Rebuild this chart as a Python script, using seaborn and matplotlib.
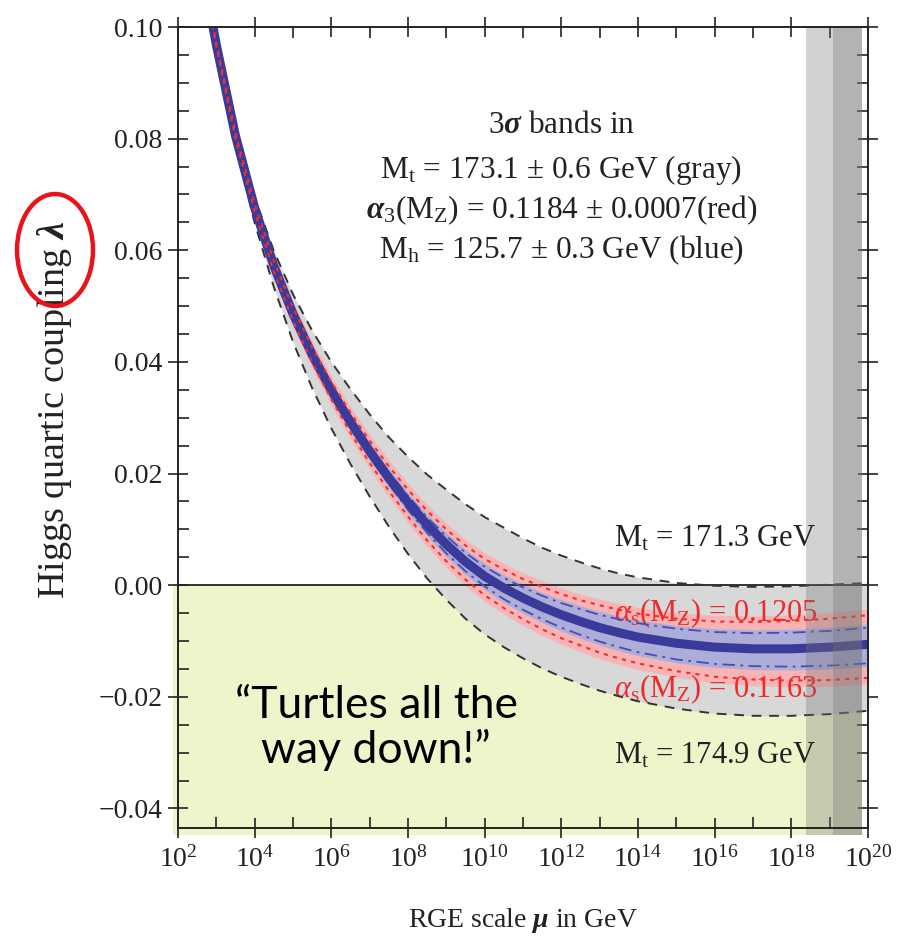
import numpy as np
import pandas as pd
import seaborn as sns
import matplotlib
matplotlib.use("Agg")
import matplotlib.pyplot as plt
from matplotlib.patches import Ellipse, Rectangle
from matplotlib.ticker import FixedLocator, FixedFormatter, NullFormatter

# ---------------- data ----------------
log_mu = [2.9, 3.0, 3.5, 4.0, 4.5, 5.0, 5.5, 6.0, 6.5, 7.0, 7.5, 8.0, 8.5, 9.0, 9.5,
          10.0, 10.5, 11.0, 11.5, 12.0, 12.5, 13.0, 13.5, 14.0, 15.0, 16.0, 17.0,
          18.0, 19.0, 20.0]

lam_central = [0.1005, 0.0968, 0.0805, 0.0676, 0.0572, 0.0486, 0.0413, 0.0349, 0.0292,
               0.0240, 0.0192, 0.0148, 0.0108, 0.0073, 0.0042, 0.0016, -0.0005, -0.0023,
               -0.0039, -0.0053, -0.0065, -0.0076, -0.0085, -0.0093, -0.0104, -0.0111,
               -0.0114, -0.0114, -0.0111, -0.0106]

# top-mass band (gray): Mt = 171.3 GeV (upper edge), 174.9 GeV (lower edge)
lam_mt_171 = [0.1009, 0.0974, 0.0817, 0.0695, 0.0599, 0.0521, 0.0456, 0.0400, 0.0351,
              0.0306, 0.0265, 0.0230, 0.0198, 0.0171, 0.0145, 0.0122, 0.0103, 0.0084,
              0.0067, 0.0053, 0.0041, 0.0030, 0.0021, 0.0014, 0.0004, -0.0001, -0.0003,
              -0.0002, 0.0001, 0.0004]
lam_mt_175 = [0.1001, 0.0961, 0.0789, 0.0649, 0.0534, 0.0436, 0.0353, 0.0281, 0.0217,
              0.0159, 0.0105, 0.0056, 0.0012, -0.0026, -0.0060, -0.0088, -0.0111, -0.0131,
              -0.0149, -0.0164, -0.0177, -0.0189, -0.0199, -0.0208, -0.0221, -0.0230,
              -0.0234, -0.0234, -0.0231, -0.0225]

# alpha_s band (red): 0.1205 (upper), 0.1163 (lower)
lam_as_1205 = [0.1007, 0.0971, 0.0810, 0.0683, 0.0581, 0.0497, 0.0426, 0.0364, 0.0309,
               0.0259, 0.0213, 0.0171, 0.0133, 0.0100, 0.0071, 0.0047, 0.0028, 0.0011,
               -0.0003, -0.0016, -0.0027, -0.0036, -0.0044, -0.0051, -0.0060, -0.0065,
               -0.0066, -0.0064, -0.0060, -0.0054]
lam_as_1163 = [0.1003, 0.0965, 0.0800, 0.0669, 0.0562, 0.0474, 0.0399, 0.0333, 0.0273,
               0.0219, 0.0169, 0.0123, 0.0080, 0.0043, 0.0010, -0.0018, -0.0041, -0.0061,
               -0.0079, -0.0095, -0.0108, -0.0121, -0.0131, -0.0140, -0.0154, -0.0164,
               -0.0169, -0.0171, -0.0170, -0.0166]

# Higgs-mass band (blue), dash-dotted edges
lam_mh_hi = [0.1007, 0.0970, 0.0808, 0.0680, 0.0577, 0.0492, 0.0420, 0.0357, 0.0301,
             0.0250, 0.0203, 0.0160, 0.0121, 0.0088, 0.0058, 0.0033, 0.0013, -0.0004,
             -0.0019, -0.0032, -0.0043, -0.0053, -0.0061, -0.0068, -0.0078, -0.0084,
             -0.0086, -0.0085, -0.0082, -0.0076]
lam_mh_lo = [0.1003, 0.0966, 0.0802, 0.0672, 0.0567, 0.0480, 0.0406, 0.0341, 0.0283,
             0.0230, 0.0181, 0.0135, 0.0094, 0.0057, 0.0025, -0.0002, -0.0025, -0.0044,
             -0.0061, -0.0076, -0.0089, -0.0101, -0.0111, -0.0120, -0.0133, -0.0141,
             -0.0145, -0.0146, -0.0144, -0.0140]

# shaded scales (log10 GeV)
reduced_planck_log = 18.38
planck_log = 19.09
shade_end_log = 19.85

x_tick_powers = [2, 4, 6, 8, 10, 12, 14, 16, 18, 20]
y_ticks = [-0.04, -0.02, 0.00, 0.02, 0.04, 0.06, 0.08, 0.10]
y_tick_labels = ["\u22120.04", "\u22120.02", "0.00", "0.02", "0.04", "0.06", "0.08", "0.10"]

# ---------------- style ----------------
sns.set_theme(style="ticks")
plt.rcParams.update({
    "font.family": ["Liberation Serif", "DejaVu Serif"],
    "mathtext.fontset": "custom",
    "mathtext.rm": "Liberation Serif",
    "mathtext.it": "Liberation Serif:italic",
    "mathtext.bf": "Liberation Serif:bold",
    "mathtext.bfit": "Liberation Serif:bold:italic",
    "axes.edgecolor": "#222222",
    "axes.linewidth": 1.4,
})

mu = 10.0 ** np.array(log_mu)
df = pd.DataFrame({"mu": mu, "central": lam_central,
                   "mt171": lam_mt_171, "mt175": lam_mt_175,
                   "as1205": lam_as_1205, "as1163": lam_as_1163,
                   "mh_hi": lam_mh_hi, "mh_lo": lam_mh_lo})

fig = plt.figure(figsize=(9.06, 9.39), dpi=100)
ax = fig.add_axes([178 / 906, 1 - 828 / 939, 690 / 906, 801 / 939])
ax.set_xscale("log")
ax.set_xlim(1e2, 1e20)
ax.set_ylim(-0.0435, 0.10)

# yellow "unstable" region
ax.add_patch(Rectangle((10 ** 1.86, -0.0447), 10 ** shade_end_log - 10 ** 1.86, 0.0447,
                       facecolor="#eff4cb", edgecolor="none", zorder=0, clip_on=False))

# bands
ax.fill_between(df["mu"], df["mt175"], df["mt171"], color="#d8d8d8", lw=0, zorder=1)
ax.fill_between(df["mu"], df["as1163"] - 0.0011, df["as1205"] + 0.0011,
                color="#f8b4b4", lw=0, zorder=1.1)
ax.fill_between(df["mu"], df["mh_lo"] - 0.0006, df["mh_hi"] + 0.0006,
                color="#adadda", lw=0, zorder=1.2)

ax.axhline(0, color="#222222", lw=1.3, zorder=1.5)

# lines
common = dict(ax=ax, sort=False, estimator=None)
sns.lineplot(data=df, x="mu", y="mt171", color="#333333", lw=1.4,
             linestyle=(0, (5, 4)), zorder=3, **common)
sns.lineplot(data=df, x="mu", y="mt175", color="#333333", lw=1.4,
             linestyle=(0, (5, 4)), zorder=3, **common)
sns.lineplot(data=df, x="mu", y="mh_hi", color="#4a4ab0", lw=1.3,
             linestyle=(0, (7, 3, 1.5, 3)), zorder=3.2, **common)
sns.lineplot(data=df, x="mu", y="mh_lo", color="#4a4ab0", lw=1.3,
             linestyle=(0, (7, 3, 1.5, 3)), zorder=3.2, **common)
sns.lineplot(data=df, x="mu", y="central", color="#3a3a9a", lw=6.5,
             zorder=4, solid_capstyle="butt", **common)
sns.lineplot(data=df, x="mu", y="as1205", color="#ee3030", lw=1.5,
             linestyle=(0, (2, 2.5)), zorder=4.2, **common)
sns.lineplot(data=df, x="mu", y="as1163", color="#ee3030", lw=1.5,
             linestyle=(0, (2, 2.5)), zorder=4.2, **common)

# Planck-scale shading
ax.add_patch(Rectangle((10 ** reduced_planck_log, -0.0447),
                       10 ** shade_end_log - 10 ** reduced_planck_log, 0.1447,
                       facecolor="#737373", alpha=0.32, edgecolor="none", zorder=5, clip_on=False))
ax.add_patch(Rectangle((10 ** planck_log, -0.0447),
                       10 ** shade_end_log - 10 ** planck_log, 0.1447,
                       facecolor="#737373", alpha=0.32, edgecolor="none", zorder=5, clip_on=False))

# annotations
tc = "#222222"
fs = 22.5
xc = 10 ** 12.0
ax.text(xc, 0.0824, r"3$\mathbfit{\sigma}$ bands in", ha="center", va="center", fontsize=fs, color=tc)
ax.text(xc, 0.0744, r"M$_\mathrm{t}$ = 173.1 $\pm$ 0.6 GeV (gray)", ha="center", va="center", fontsize=fs, color=tc)
ax.text(xc, 0.0672, r"$\mathbfit{\alpha}_\mathrm{3}$(M$_\mathrm{Z}$) = 0.1184 $\pm$ 0.0007(red)", ha="center", va="center", fontsize=fs, color=tc)
ax.text(xc, 0.0600, r"M$_\mathrm{h}$ = 125.7 $\pm$ 0.3 GeV (blue)", ha="center", va="center", fontsize=fs, color=tc)

ax.text(10 ** 16.02, 0.0083, r"M$_\mathrm{t}$ = 171.3 GeV", ha="center", va="center", fontsize=22, color=tc, zorder=6)
ax.text(10 ** 16.02, -0.0305, r"M$_\mathrm{t}$ = 174.9 GeV", ha="center", va="center", fontsize=22, color=tc, zorder=6)
ax.text(10 ** 16.02, -0.0050, r"$\mathit{\alpha}_\mathrm{s}$(M$_\mathrm{Z}$) = 0.1205", ha="center", va="center", fontsize=22, color="#ee2a2a", zorder=2.9)
ax.text(10 ** 16.02, -0.0186, r"$\mathit{\alpha}_\mathrm{s}$(M$_\mathrm{Z}$) = 0.1163", ha="center", va="center", fontsize=22, color="#ee2a2a", zorder=2.9)

ax.text(10 ** 7.17, -0.0256, "\u201cTurtles all the\nway down!\u201d", ha="center", va="center",
        fontsize=32, family=["Lato", "DejaVu Sans"], color="black", linespacing=1.07, zorder=6)

# axes labels
ax.set_xlabel(r"RGE scale $\mathbfit{\mu}$ in GeV", fontsize=20, color=tc)
ax.set_ylabel(r"Higgs quartic coupling $\mathbfit{\lambda}$", fontsize=27.5, color=tc)
ax.xaxis.set_label_coords(0.5, -0.097)
ax.yaxis.set_label_coords(-0.151, 0.522)

# ticks
ax.xaxis.set_major_locator(FixedLocator([10.0 ** k for k in x_tick_powers]))
ax.xaxis.set_major_formatter(FixedFormatter([r"$10^{%d}$" % k for k in x_tick_powers]))
ax.xaxis.set_minor_locator(FixedLocator([10.0 ** k for k in range(3, 20, 2)]))
ax.xaxis.set_minor_formatter(NullFormatter())
ax.set_yticks(y_ticks)
ax.set_yticklabels(y_tick_labels)
ax.yaxis.set_minor_locator(FixedLocator(list(np.arange(-0.04, 0.1001, 0.005))))
ax.yaxis.set_minor_formatter(NullFormatter())
ax.tick_params(which="major", direction="inout", length=14, width=1.2, top=True, right=True,
               labelsize=20, colors=tc, pad=4)
ax.tick_params(which="minor", direction="in", length=8, width=1.2, top=True, right=True, colors=tc)
ax.tick_params(axis="x", which="major", pad=6)
for s in ax.spines.values():
    s.set_zorder(7)

# red ellipse around lambda
fig.patches.append(Ellipse((55 / 906, 1 - 250 / 939), 76 / 906, 112 / 939,
                           transform=fig.transFigure, fill=False, edgecolor="#e8141c", lw=3.2))

fig.savefig("out.png", dpi=100)
